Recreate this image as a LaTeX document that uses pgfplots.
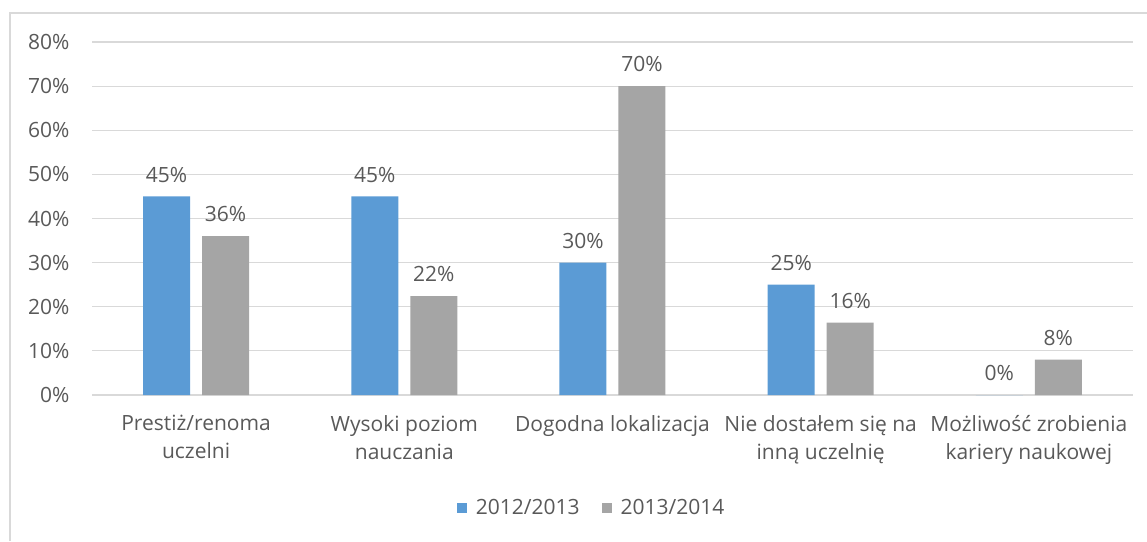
\documentclass[border=0pt]{standalone}
\usepackage{fontspec}
\setmainfont{Open Sans}
\usepackage{pgfplots}
\pgfplotsset{compat=1.18}
\definecolor{serA}{RGB}{91,155,213}
\definecolor{serB}{RGB}{165,165,165}
\definecolor{txt}{RGB}{89,89,89}
\definecolor{grd}{RGB}{217,217,217}

\begin{document}
\begin{tikzpicture}[x=1pt,y=1pt]
\useasboundingbox (0,0) rectangle (1147,541);
\draw[grd, line width=2pt] (10,0) -- (10,528) -- (1147,528);
\begin{axis}[
    at={(92pt,146pt)}, anchor=south west,
    scale only axis, width=1041pt, height=353pt,
    xmin=-0.5, xmax=4.5, ymin=0, ymax=80,
    xtick={0,...,4},
    xticklabels={{Prestiż/renoma\\uczelni},{Wysoki poziom\\nauczania},{Dogodna lokalizacja},{Nie dostałem się na\\inną uczelnię},{Możliwość zrobienia\\kariery naukowej}},
    ytick={0,10,...,80},
    yticklabel={\pgfmathprintnumber{\tick}\%},
    /pgf/number format/assume math mode=true,
    major tick length=0pt,
    axis line style={draw=none},
    ymajorgrids, grid style={grd, line width=1.2pt},
    tick label style={font=\fontsize{21}{28}\selectfont, text=txt},
    x tick label style={align=center, yshift=-17pt},
    y tick label style={xshift=-19pt},
    legend style={at={(0.48,-0.32)}, anchor=center, draw=none, legend columns=2,
        font=\fontsize{21}{24}\selectfont, text=txt,
        /tikz/every even column/.append style={column sep=20pt}},
    ybar, bar width=47pt,
    nodes near coords={\pgfmathprintnumber[fixed,precision=0]{\pgfplotspointmeta}\%},
    every node near coord/.append style={font=\fontsize{21}{24}\selectfont, text=txt, inner sep=1pt, yshift=13pt},
]
\addplot[fill=serA, draw=none, bar shift=-29.5pt,
    legend image code/.code={\fill[serA] (0pt,-5pt) rectangle (10pt,5pt); \path (17pt,0pt);}] coordinates {
    (0,45) (1,45) (2,30) (3,25) (4,0)
};
\addplot[fill=serB, draw=none, bar shift=29.5pt,
    legend image code/.code={\fill[serB] (0pt,-5pt) rectangle (10pt,5pt); \path (17pt,0pt);}] coordinates {
    (0,36) (1,22.4) (2,70) (3,16.4) (4,8)
};
\legend{2012/2013, 2013/2014}
\end{axis}
\end{tikzpicture}
\end{document}
